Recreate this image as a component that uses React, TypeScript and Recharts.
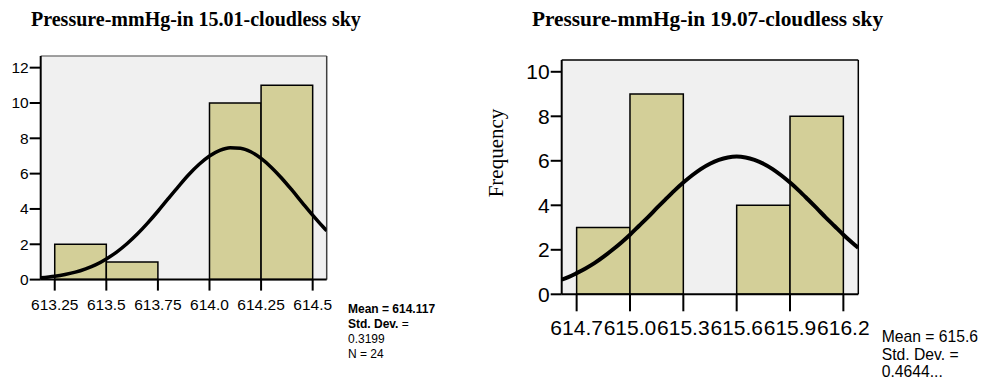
import React from 'react';
import { ComposedChart, XAxis, YAxis, Line, ReferenceArea, ReferenceLine, CartesianGrid } from 'recharts';

// ---------- Left chart: 15.01 ----------
const leftTitle = 'Pressure-mmHg-in 15.01-cloudless sky';
const leftBinEdges = [613.25, 613.5, 613.75, 614.0, 614.25, 614.5];
const leftCounts = [2, 1, 0, 10, 11];
const leftXTicks = [613.25, 613.5, 613.75, 614.0, 614.25, 614.5];
const leftXTickLabels = ['613.25', '613.5', '613.75', '614.0', '614.25', '614.5'];
const leftYTicks = [0, 2, 4, 6, 8, 10, 12];
const leftCurveX = [613.182, 613.25, 613.3, 613.35, 613.4, 613.45, 613.5, 613.55, 613.6, 613.65, 613.7, 613.75, 613.8, 613.85, 613.9, 613.95, 614.0, 614.05, 614.1, 614.15, 614.2, 614.25, 614.3, 614.35, 614.4, 614.45, 614.5, 614.55, 614.568];
const leftCurveY = [0.1, 0.19, 0.29, 0.42, 0.61, 0.85, 1.17, 1.56, 2.03, 2.58, 3.2, 3.87, 4.58, 5.28, 5.95, 6.53, 7.0, 7.32, 7.47, 7.44, 7.24, 6.86, 6.35, 5.74, 5.06, 4.35, 3.65, 2.99, 2.77];
const leftStats = ['Mean = 614.117', 'Std. Dev. =', '0.3199', 'N = 24'];

// ---------- Right chart: 19.07 ----------
const rightTitle = 'Pressure-mmHg-in 19.07-cloudless sky';
const rightBinEdges = [614.7, 615.0, 615.3, 615.6, 615.9, 616.2];
const rightCounts = [3, 9, 0, 4, 8];
const rightXTicks = [614.7, 615.0, 615.3, 615.6, 615.9, 616.2];
const rightXTickLabels = ['614.7', '615.0', '615.3', '615.6', '615.9', '616.2'];
const rightYTicks = [0, 2, 4, 6, 8, 10];
const rightCurveX = [614.616, 614.65, 614.7, 614.75, 614.8, 614.85, 614.9, 614.95, 615.0, 615.05, 615.1, 615.15, 615.2, 615.25, 615.3, 615.35, 615.4, 615.45, 615.5, 615.55, 615.6, 615.65, 615.7, 615.75, 615.8, 615.85, 615.9, 615.95, 616.0, 616.05, 616.1, 616.15, 616.2, 616.25, 616.284];
const rightCurveY = [0.66, 0.76, 0.95, 1.16, 1.4, 1.68, 1.99, 2.32, 2.68, 3.07, 3.46, 3.87, 4.27, 4.66, 5.02, 5.35, 5.64, 5.87, 6.04, 6.15, 6.19, 6.15, 6.04, 5.87, 5.64, 5.35, 5.02, 4.66, 4.27, 3.87, 3.46, 3.07, 2.68, 2.32, 2.09];
const rightYLabel = 'Frequency';
const rightStats = ['Mean = 615.6', 'Std. Dev. =', '0.4644...'];

const SANS = "'Liberation Sans', Arial, Helvetica, sans-serif";
const SERIF = "'Liberation Serif', 'Times New Roman', Times, serif";
const BAR_FILL = '#D3CF98';
const PLOT_BG = '#F0F0F0';

type HistProps = {
  width: number;
  height: number;
  margin: { top: number; right: number; bottom: number; left: number };
  yAxisWidth: number;
  xAxisHeight: number;
  xDomain: [number, number];
  yDomain: [number, number];
  edges: number[];
  counts: number[];
  xTicks: number[];
  xLabels: string[];
  yTicks: number[];
  curveX: number[];
  curveY: number[];
  fontSize: number;
  xTickSize: number;
  xTickMargin: number;
  yTickSize: number;
  topBorder: string;
  rightBorder: string;
  curveWidth: number;
};

function Histogram(p: HistProps) {
  const curve = p.curveX.map((x, i) => ({ x, y: p.curveY[i] }));
  const bins = p.counts.map((c, i) => ({ x0: p.edges[i], x1: p.edges[i + 1], count: c }));
  const tickStyle = { fill: '#000', fontSize: p.fontSize, fontFamily: SANS };
  return (
    <ComposedChart width={p.width} height={p.height} margin={p.margin} data={curve}>
      <CartesianGrid fill={PLOT_BG} fillOpacity={1} horizontal={false} vertical={false} stroke="none" />
      <XAxis
        type="number"
        dataKey="x"
        domain={p.xDomain}
        ticks={p.xTicks}
        interval={0}
        allowDataOverflow
        height={p.xAxisHeight}
        tickSize={p.xTickSize}
        tickMargin={p.xTickMargin}
        tickFormatter={(v: number) => p.xLabels[p.xTicks.indexOf(v)]}
        axisLine={{ stroke: '#000', strokeWidth: 2 }}
        tickLine={{ stroke: '#000', strokeWidth: 2 }}
        tick={tickStyle}
      />
      <YAxis
        type="number"
        domain={p.yDomain}
        ticks={p.yTicks}
        interval={0}
        allowDataOverflow
        width={p.yAxisWidth}
        tickSize={p.yTickSize}
        tickMargin={1}
        axisLine={{ stroke: '#000', strokeWidth: 2 }}
        tickLine={{ stroke: '#000', strokeWidth: 2 }}
        tick={tickStyle}
      />
      <ReferenceLine y={p.yDomain[1]} stroke={p.topBorder} strokeWidth={1.5} ifOverflow="visible" />
      <ReferenceLine x={p.xDomain[1]} stroke={p.rightBorder} strokeWidth={1.5} ifOverflow="visible" />
      {bins
        .filter((b) => b.count > 0)
        .map((b) => (
          <ReferenceArea
            key={b.x0}
            x1={b.x0}
            x2={b.x1}
            y1={0}
            y2={b.count}
            fill={BAR_FILL}
            fillOpacity={1}
            stroke="#000"
            strokeWidth={1.5}
            ifOverflow="visible"
          />
        ))}
      <Line
        type="monotone"
        dataKey="y"
        stroke="#000"
        strokeWidth={p.curveWidth}
        dot={false}
        activeDot={false}
        isAnimationActive={false}
      />
    </ComposedChart>
  );
}

export default function App() {
  return (
    <div style={{ position: 'absolute', left: 0, top: 0, width: 984, height: 379, background: '#fff' }}>
      <div style={{ position: 'absolute', left: 0, top: 0 }}>
        <Histogram
          width={470}
          height={379}
          margin={{ top: 56, right: 143.3, bottom: 69.4, left: 0 }}
          yAxisWidth={40.7}
          xAxisHeight={30}
          xDomain={[613.182, 614.568]}
          yDomain={[0, 12.66]}
          edges={leftBinEdges}
          counts={leftCounts}
          xTicks={leftXTicks}
          xLabels={leftXTickLabels}
          yTicks={leftYTicks}
          curveX={leftCurveX}
          curveY={leftCurveY}
          fontSize={15.5}
          xTickSize={11}
          xTickMargin={8}
          yTickSize={11}
          topBorder="#808080"
          rightBorder="#404040"
          curveWidth={3.5}
        />
      </div>
      <div style={{ position: 'absolute', left: 470, top: 0 }}>
        <Histogram
          width={514}
          height={379}
          margin={{ top: 60, right: 125.7, bottom: 44.7, left: 0 }}
          yAxisWidth={91.7}
          xAxisHeight={40}
          xDomain={[614.616, 616.284]}
          yDomain={[0, 10.53]}
          edges={rightBinEdges}
          counts={rightCounts}
          xTicks={rightXTicks}
          xLabels={rightXTickLabels}
          yTicks={rightYTicks}
          curveX={rightCurveX}
          curveY={rightCurveY}
          fontSize={21}
          xTickSize={17}
          xTickMargin={9}
          yTickSize={11}
          topBorder="#000"
          rightBorder="#000"
          curveWidth={4}
        />
      </div>
      <svg
        width={984}
        height={379}
        style={{ position: 'absolute', left: 0, top: 0, pointerEvents: 'none' }}
      >
        <text x={195.9} y={25.5} textAnchor="middle" fontFamily={SERIF} fontWeight="bold" fontSize={20} fill="#000">
          {leftTitle}
        </text>
        <text x={707.5} y={25.5} textAnchor="middle" fontFamily={SERIF} fontWeight="bold" fontSize={21.3} fill="#000">
          {rightTitle}
        </text>
        <text
          x={502.5}
          y={153}
          textAnchor="middle"
          fontFamily={SERIF}
          fontSize={21}
          fill="#000"
          transform="rotate(-90 502.5 153)"
        >
          {rightYLabel}
        </text>
        <g fontFamily={SANS} fontSize={12} fill="#000">
          <text x={348} y={313.3} fontWeight="bold">{leftStats[0]}</text>
          <text x={348} y={328.3}>
            <tspan fontWeight="bold">{leftStats[1].replace(' =', '')}</tspan>
            <tspan>{' ='}</tspan>
          </text>
          <text x={348} y={343.3}>{leftStats[2]}</text>
          <text x={348} y={357.7}>{leftStats[3]}</text>
        </g>
        <g fontFamily={SANS} fontSize={15.7} fill="#000">
          <text x={881.7} y={341.6}>{rightStats[0]}</text>
          <text x={881.7} y={360}>{rightStats[1]}</text>
          <text x={881.7} y={377.3}>{rightStats[2]}</text>
        </g>
      </svg>
    </div>
  );
}
